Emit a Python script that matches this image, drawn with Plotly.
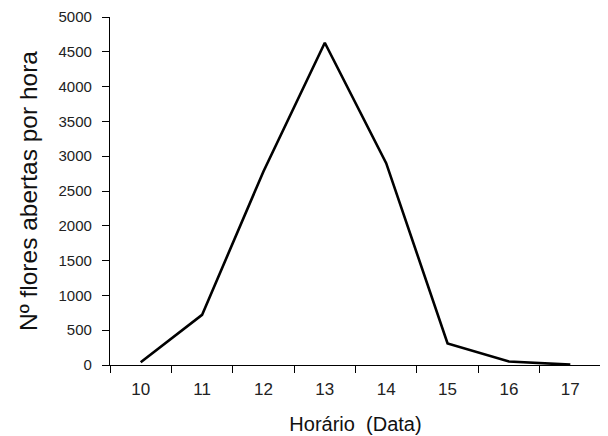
import plotly.graph_objects as go

hours = ["10", "11", "12", "13", "14", "15", "16", "17"]
flowers = [40, 720, 2780, 4630, 2900, 310, 50, 5]
y_ticks = [0, 500, 1000, 1500, 2000, 2500, 3000, 3500, 4000, 4500, 5000]

fig = go.Figure()
fig.add_trace(go.Scatter(
    x=hours, y=flowers, mode="lines",
    line=dict(color="black", width=2.6),
    showlegend=False,
))

font_family = "Liberation Sans, Arial, sans-serif"

fig.update_layout(
    width=600, height=428,
    margin=dict(l=102, r=7, t=8.5, b=71, autoexpand=False),
    paper_bgcolor="white", plot_bgcolor="white",
    font=dict(family=font_family, color="black"),
    xaxis=dict(
        type="category",
        categoryorder="array", categoryarray=hours,
        range=[-0.5, 7.5],
        tickson="boundaries",
        automargin=False,
        ticks="outside", ticklen=7, tickwidth=1, tickcolor="black",
        ticklabelstandoff=8,
        showline=True, linecolor="black", linewidth=1.2,
        showgrid=False, zeroline=False,
        tickfont=dict(size=17, family=font_family, color="#222"),
        title=dict(text="Horário  (Data)", font=dict(size=20, family=font_family, color="#111"), standoff=19),
    ),
    yaxis=dict(
        range=[0, 5000],
        automargin=False,
        tickmode="array", tickvals=y_ticks, ticktext=[str(v) for v in y_ticks],
        ticks="outside", ticklen=7, tickwidth=1, tickcolor="black",
        ticklabelstandoff=7,
        showline=True, linecolor="black", linewidth=1.2,
        showgrid=False, zeroline=False,
        tickfont=dict(size=15, family=font_family, color="#222"),
        title=dict(text="Nº flores abertas por hora", font=dict(size=24.5, family=font_family, color="#111"), standoff=13),
    ),
)

fig.write_html("out.html")
